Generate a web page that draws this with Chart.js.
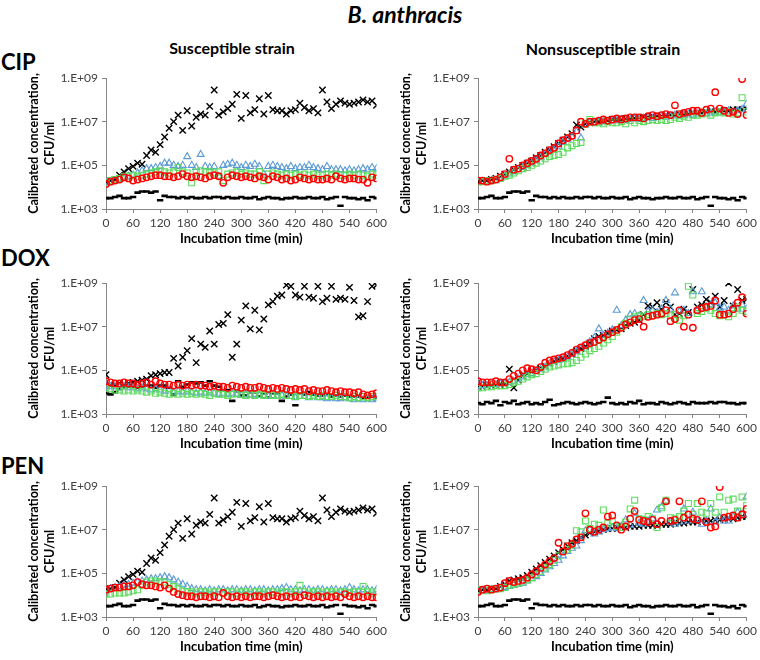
<!DOCTYPE html>
<html>
<head>
<meta charset="utf-8">
<script src="https://cdn.jsdelivr.net/npm/chart.js@4.4.0/dist/chart.umd.min.js"></script>
<style>
  html, body { margin: 0; padding: 0; background: #fff; overflow: hidden; }
  #page { position: relative; width: 760px; height: 660px; font-family: Lato, 'Noto Sans', sans-serif; color: #000; }
  .lbl { position: absolute; font-weight: bold; white-space: nowrap; transform: translate(-50%, -50%); }
  .row { position: absolute; font-weight: bold; font-size: 22px; transform: translate(0, -50%); left: 1px; }
  canvas { position: absolute; }
</style>
</head>
<body>
<div id="page">
  <div class="lbl" style="left:405px;top:14px;font-size:23px;font-style:italic;">B. anthracis</div>
  <div class="lbl" style="left:232px;top:47px;font-size:16px;">Susceptible strain</div>
  <div class="lbl" style="left:603px;top:48px;font-size:16px;">Nonsusceptible strain</div>
  <div class="row" style="top:61px;">CIP</div>
  <div class="row" style="top:257px;">DOX</div>
  <div class="row" style="top:465px;">PEN</div>
  <canvas id="cipSus" width="390" height="191" style="left:0;top:60px"></canvas>
  <canvas id="cipNon" width="370" height="191" style="left:390px;top:60px"></canvas>
  <canvas id="doxSus" width="390" height="191" style="left:0;top:265px"></canvas>
  <canvas id="doxNon" width="370" height="191" style="left:390px;top:265px"></canvas>
  <canvas id="penSus" width="390" height="191" style="left:0;top:468px"></canvas>
  <canvas id="penNon" width="370" height="191" style="left:390px;top:468px"></canvas>
</div>
<script>
// incubation time (min)
const times = [0,10,20,30,40,50,60,70,80,90,
  100,110,120,130,140,150,160,170,180,190,
  200,210,220,230,240,250,260,270,280,290,
  300,310,320,330,340,350,360,370,380,390,
  400,410,420,430,440,450,460,470,480,490,
  500,510,520,530,540,550,560,570,580,590,
  600];
const yTickVals = [1e3, 1e5, 1e7, 1e9];

// all values below are log10(CFU/ml)
// growth control (x) of susceptible strain, same in CIP and PEN panels
const ctrlSusX = [4.25,4.3,4.35,4.55,4.7,4.85,4.95,5.1,5.05,5.45,
  5.7,5.6,5.95,6.3,6.7,7.0,7.3,6.6,7.5,6.8,
  7.2,7.35,7.3,7.7,8.45,7.3,7.45,7.6,7.8,8.25,
  7.15,8.2,7.4,7.55,8.05,7.35,8.2,7.55,7.5,7.5,
  7.35,7.5,7.55,7.85,7.65,7.5,7.6,7.4,8.45,7.9,
  7.6,7.8,7.95,7.85,7.8,7.85,7.9,8.0,7.9,7.95,
  7.75];
// blank (dash) in CIP and PEN panels
const ctrlDash = [3.5,3.5,3.55,3.6,3.5,3.5,3.55,3.75,3.8,3.8,
  3.75,3.8,3.4,3.6,3.55,3.55,3.5,3.55,3.5,3.55,
  3.5,3.5,3.55,3.5,3.55,3.55,3.5,3.55,3.5,3.5,
  3.55,3.5,3.5,3.55,3.45,3.5,3.55,3.5,3.5,3.45,
  3.5,3.5,3.55,3.5,3.5,3.55,3.5,3.5,3.55,3.45,
  3.5,3.55,3.15,3.55,3.5,3.5,3.45,3.5,3.4,3.55,
  3.5];

// CIP, susceptible
const cipSusBlue = [4.2,4.25,4.3,4.35,4.4,4.5,4.55,4.65,4.75,4.85,
  4.85,4.9,4.95,5.1,5.1,5.0,4.95,5.0,5.4,5.0,
  4.9,5.5,4.95,4.9,4.95,4.5,5.0,5.05,5.1,5.0,
  4.9,5.0,4.95,5.05,4.95,4.6,4.95,5.0,4.95,4.9,
  4.85,4.95,4.85,4.9,4.9,5.0,4.9,4.85,4.8,4.95,
  4.8,4.8,4.8,4.75,4.8,4.75,4.8,4.85,4.8,4.9,
  4.85];
const cipSusGreen = [4.2,4.3,4.35,4.4,4.5,4.5,4.55,4.5,4.55,4.6,
  4.65,4.7,4.75,4.7,4.65,4.7,4.9,4.7,4.65,4.2,
  4.7,4.75,4.7,4.7,4.65,4.7,4.3,4.6,4.65,4.7,
  4.6,4.65,4.6,4.6,4.7,4.3,4.6,4.65,4.6,4.55,
  4.6,4.55,4.6,4.55,4.6,4.55,4.6,4.55,4.55,4.6,
  4.55,4.6,4.55,4.55,4.6,4.55,4.6,4.55,4.5,4.6,
  4.55];
const cipSusRed = [4.15,4.25,4.3,4.35,4.45,4.4,4.3,4.35,4.4,4.45,
  4.5,4.55,4.55,4.5,4.5,4.45,4.5,4.6,4.5,4.45,
  4.5,4.45,4.4,4.5,4.55,4.5,4.2,4.45,4.55,4.5,
  4.45,4.5,4.45,4.4,4.5,4.45,4.35,4.5,4.45,4.35,
  4.4,4.3,4.35,4.45,4.4,4.35,4.4,4.35,4.35,4.4,
  4.35,4.5,4.4,4.35,4.4,4.4,4.35,4.35,4.2,4.45,
  4.4];

// CIP, nonsusceptible
const cipNonX = [4.25,4.3,4.3,4.35,4.4,4.5,4.6,4.7,4.8,4.9,
  5.0,5.1,5.2,5.35,5.45,5.6,5.7,5.85,6.0,6.15,
  6.3,6.45,6.85,6.75,6.9,6.95,7.0,7.0,7.05,7.05,
  7.1,7.1,7.1,7.15,7.15,7.15,7.2,7.2,7.2,7.25,
  7.25,7.25,7.3,7.3,7.3,7.35,7.35,7.35,7.4,7.4,
  7.4,7.45,7.45,7.45,7.5,7.5,7.5,7.55,7.55,7.55,
  7.6];
const cipNonBlue = [4.25,4.25,4.25,4.3,4.3,4.4,4.5,4.6,4.7,4.8,
  4.9,5.0,5.1,5.2,5.35,5.5,5.6,5.7,5.85,6.05,
  6.2,6.3,6.55,6.25,6.85,6.95,6.95,7.0,7.0,7.0,
  7.05,7.05,7.1,7.05,7.1,7.15,7.1,7.15,7.2,7.15,
  7.2,7.25,7.2,7.25,7.3,7.25,7.3,7.35,7.3,7.35,
  7.4,7.35,7.4,7.45,7.4,7.45,7.5,7.45,7.5,7.55,
  7.8];
const cipNonGreen = [4.25,4.25,4.3,4.3,4.35,4.4,4.5,4.55,4.65,4.75,
  4.85,4.9,5.0,5.1,5.2,5.3,5.4,5.45,5.5,5.6,
  5.8,5.9,6.0,6.05,6.9,7.1,6.95,6.95,6.9,7.0,
  6.95,6.95,7.0,6.9,7.05,6.95,7.05,7.0,7.05,7.1,
  7.05,7.1,7.05,7.1,7.2,7.15,7.25,7.2,7.3,7.3,
  7.35,7.4,7.3,7.4,7.45,7.4,7.45,7.35,7.4,8.1,
  7.45];
const cipNonRed = [4.3,4.3,4.25,4.3,4.35,4.45,4.6,5.3,4.8,4.85,
  5.0,5.1,5.2,5.3,5.45,5.55,5.7,5.8,6.0,6.15,
  6.25,6.35,6.6,7.0,6.9,7.0,7.0,7.05,7.1,7.05,
  7.1,7.15,7.1,7.15,7.2,7.2,7.2,7.15,7.25,7.3,
  7.25,7.3,7.35,7.3,7.75,7.35,7.4,7.45,7.5,7.5,
  7.4,7.55,7.6,8.35,7.6,7.5,7.4,7.45,7.35,8.95,
  7.3];

// DOX, susceptible
const doxSusX = [4.8,4.3,4.3,4.4,4.35,4.4,4.45,4.5,4.55,4.6,
  4.75,4.8,4.85,4.9,4.9,5.55,5.2,5.6,5.9,6.45,
  5.35,6.2,6.05,6.8,6.2,7.1,7.15,7.55,5.6,6.2,
  7.3,7.95,6.9,7.75,6.85,7.35,8.0,8.15,8.4,8.45,
  8.9,8.85,8.45,8.35,8.85,8.35,8.3,8.85,8.15,8.3,
  8.85,8.25,8.3,8.25,8.8,8.2,7.45,7.5,8.15,8.85,
  8.9];
const doxSusDash = [3.95,3.9,4.0,4.15,4.2,4.25,4.25,4.2,4.25,4.3,
  4.3,4.2,4.3,4.3,4.2,3.9,4.5,4.25,4.35,4.45,
  4.4,4.45,4.3,4.5,4.3,4.25,4.1,4.1,3.6,4.05,
  3.85,3.85,4.0,4.0,3.8,3.95,3.75,3.95,3.95,3.6,
  3.8,3.9,3.4,3.95,3.9,4.0,3.9,3.85,3.85,3.9,
  3.8,3.85,3.8,3.85,3.8,3.8,3.8,3.75,3.75,3.8,
  3.75];
const doxSusBlue = [4.3,4.25,4.25,4.2,4.25,4.2,4.2,4.15,4.2,4.15,
  4.1,4.15,4.1,4.05,4.1,4.0,4.05,4.0,4.05,4.0,
  3.95,4.0,3.95,4.0,3.95,3.9,3.95,3.9,3.95,3.9,
  3.85,3.9,3.85,3.9,3.85,3.85,3.8,3.85,3.8,3.85,
  3.8,3.8,3.75,3.8,3.8,3.75,3.8,3.75,3.75,3.7,
  3.75,3.7,3.7,3.75,3.7,3.65,3.7,3.65,3.7,3.65,
  3.7];
const doxSusGreen = [4.2,4.15,4.1,4.1,4.05,4.1,4.05,4.1,4.05,4.0,
  4.05,3.95,4.0,3.95,3.9,3.95,3.9,3.95,3.9,3.95,
  3.9,3.95,3.9,3.85,3.95,3.9,3.9,3.85,3.9,3.95,
  3.9,3.85,3.9,3.85,3.9,3.85,3.9,3.85,3.85,3.9,
  3.85,3.85,3.8,3.85,3.85,3.8,3.85,3.8,3.85,3.8,
  3.8,3.85,3.8,3.8,3.75,3.8,3.75,3.8,3.75,3.8,
  3.8];
const doxSusRed = [4.5,4.45,4.4,4.4,4.45,4.4,4.4,4.35,4.4,4.45,
  4.35,4.5,4.4,4.35,4.35,4.3,4.35,4.3,4.35,4.3,
  4.35,4.3,4.3,4.25,4.3,4.25,4.25,4.2,4.3,4.25,
  4.2,4.25,4.2,4.2,4.25,4.2,4.15,4.2,4.15,4.2,
  4.15,4.1,4.15,4.1,4.15,4.05,4.1,4.05,4.05,4.1,
  4.05,4.0,4.05,4.0,4.0,3.95,4.0,3.9,3.85,3.9,
  3.95];

// DOX, nonsusceptible
const doxNonX = [4.25,4.25,4.3,4.3,4.3,4.35,4.35,5.05,4.2,4.55,
  4.75,4.85,4.95,5.0,5.1,5.2,5.3,5.4,5.5,5.55,
  5.65,5.75,5.9,6.0,6.1,6.25,6.45,6.55,6.6,6.7,
  6.8,6.85,6.9,7.05,7.15,7.2,7.3,7.55,7.95,7.9,
  8.1,7.8,8.1,7.9,7.55,7.6,7.8,7.65,8.7,7.9,
  8.0,8.25,8.1,8.4,7.9,8.2,9.0,7.95,8.7,8.2,
  8.25];
const doxNonDash = [3.5,3.45,3.55,3.5,3.6,3.4,3.55,3.5,3.6,3.45,
  3.5,3.55,3.45,3.5,3.45,3.55,3.65,3.4,3.45,3.5,
  3.55,3.5,3.45,3.5,3.55,3.5,3.45,3.5,3.55,3.75,
  3.5,3.45,3.5,3.45,3.55,3.5,3.6,3.45,3.5,3.5,
  3.45,3.55,3.5,3.45,3.5,3.55,3.5,3.45,3.55,3.5,
  3.5,3.5,3.55,3.5,3.55,3.55,3.5,3.5,3.45,3.5,
  3.5];
const doxNonBlue = [4.3,4.3,4.3,4.35,4.35,4.4,4.4,4.45,4.5,4.6,
  4.7,4.8,4.85,4.95,5.05,5.15,5.3,5.4,5.45,5.5,
  5.6,5.75,5.85,6.0,6.15,6.3,6.5,6.9,6.6,6.7,
  6.85,7.75,7.05,7.3,7.55,7.6,7.5,8.2,7.7,7.75,
  7.65,7.8,8.2,7.8,8.55,7.7,7.75,7.6,8.6,7.75,
  8.6,7.9,8.0,8.1,7.85,7.9,7.75,7.95,7.8,8.0,
  7.8];
const doxNonGreen = [4.2,4.2,4.25,4.25,4.3,4.3,4.3,4.35,4.45,4.5,
  4.6,4.7,4.8,4.85,4.95,5.05,5.15,5.2,5.25,5.3,
  5.3,5.35,5.45,5.6,5.75,5.9,6.0,6.1,6.25,6.4,
  6.55,6.75,7.0,7.15,7.35,7.45,7.5,7.45,7.55,7.5,
  7.6,7.55,7.6,7.5,7.55,7.3,7.5,8.85,8.45,7.6,
  7.7,7.85,7.75,7.6,7.5,7.55,7.45,7.6,7.9,7.75,
  7.7];
const doxNonRed = [4.5,4.45,4.45,4.45,4.5,4.45,4.45,4.6,4.75,4.85,
  5.0,5.1,5.05,5.0,5.15,5.35,5.45,5.5,5.55,5.6,
  5.7,5.8,5.95,6.05,6.15,6.25,6.3,6.4,6.5,6.65,
  6.75,6.85,6.95,7.1,7.2,7.3,7.35,7.0,7.45,7.5,
  7.55,7.6,7.75,7.25,7.35,7.75,7.0,7.55,6.95,7.75,
  7.85,7.9,7.95,8.2,7.55,7.55,7.6,7.8,8.1,8.35,
  7.6];

// PEN, susceptible
const penSusBlue = [4.25,4.3,4.35,4.4,4.45,4.5,4.55,4.6,4.65,4.7,
  4.75,4.75,4.8,4.85,4.8,4.7,4.6,4.5,4.4,4.3,
  4.25,4.25,4.2,4.25,4.2,4.25,4.25,4.2,4.25,4.25,
  4.2,4.25,4.25,4.2,4.25,4.25,4.2,4.25,4.25,4.3,
  4.35,4.25,4.25,4.2,4.25,4.25,4.2,4.25,4.25,4.2,
  4.25,4.25,4.2,4.25,4.35,4.25,4.2,4.25,4.25,4.2,
  4.25];
const penSusGreen = [4.05,4.05,4.1,4.1,4.1,4.15,4.2,4.25,4.45,4.6,
  4.65,4.65,4.6,4.6,4.5,4.4,4.3,4.2,4.15,4.15,
  4.1,4.15,4.15,4.1,4.15,4.15,4.1,4.15,4.15,4.1,
  4.15,4.15,4.1,4.15,4.15,4.1,4.15,4.15,4.1,4.15,
  4.15,4.1,4.15,4.45,4.15,4.1,4.15,4.15,4.1,4.15,
  4.15,4.1,4.15,4.15,4.1,4.15,4.15,4.4,4.15,4.1,
  4.15];
const penSusRed = [4.25,4.3,4.35,4.35,4.4,4.4,4.45,4.6,4.5,4.45,
  4.45,4.4,4.35,4.45,4.3,4.15,4.05,4.0,3.95,3.95,
  3.9,3.95,3.95,3.9,3.95,3.9,4.1,3.95,3.9,3.95,
  3.9,3.95,3.9,3.95,3.95,3.9,3.95,4.0,3.95,3.9,
  3.95,3.9,3.95,3.9,4.0,3.95,3.9,3.95,3.9,3.95,
  3.9,3.95,3.9,4.05,3.95,3.9,3.95,3.9,3.95,3.9,
  3.9];

// PEN, nonsusceptible
const penNonX = [4.2,4.25,4.25,4.3,4.3,4.4,4.5,4.65,4.7,4.75,
  4.8,4.9,5.05,5.2,5.35,5.5,5.65,5.8,5.95,6.1,
  6.25,6.4,6.5,6.65,6.75,6.85,6.9,6.95,7.0,7.05,
  7.05,7.1,7.1,7.1,7.15,7.15,7.15,7.2,7.2,7.2,
  7.2,7.25,7.25,7.25,7.3,7.3,7.3,7.35,7.35,7.35,
  7.4,7.4,7.4,7.45,7.45,7.5,7.5,7.5,7.55,7.6,
  7.6];
const penNonBlue = [4.2,4.2,4.2,4.25,4.25,4.3,4.35,4.4,4.45,4.5,
  4.55,4.65,4.75,4.85,5.0,5.15,5.3,5.45,5.6,5.8,
  6.0,6.15,6.25,6.5,6.95,7.0,6.8,6.9,7.0,7.05,
  7.1,7.05,7.15,7.45,7.2,7.75,7.3,7.25,7.4,7.5,
  7.9,8.05,8.3,7.35,7.25,7.35,7.95,7.4,7.8,7.45,
  7.25,7.4,7.95,7.35,7.55,7.4,7.4,7.6,7.8,7.7,
  8.5];
const penNonGreen = [4.25,4.25,4.2,4.25,4.3,4.3,4.35,4.45,4.5,4.55,
  4.6,4.7,4.8,4.95,5.1,5.25,5.4,5.6,5.8,6.0,
  6.1,6.3,6.95,6.9,7.4,7.05,7.25,7.2,7.9,7.3,
  7.4,7.15,7.1,7.35,7.95,8.35,7.5,7.45,7.6,7.5,
  7.1,8.0,8.35,7.55,7.5,7.6,7.85,8.2,7.7,8.2,
  7.8,7.75,8.2,7.8,8.5,7.8,8.35,8.4,7.85,8.5,
  8.1];
const penNonRed = [4.15,4.25,4.3,4.25,4.3,4.35,4.55,4.65,4.6,4.65,
  4.7,4.8,4.95,5.1,5.25,5.4,5.55,5.7,6.4,6.0,
  6.25,6.35,6.55,6.65,7.75,7.0,6.9,7.0,7.1,7.6,
  7.65,7.2,7.0,7.15,7.5,7.85,7.45,7.4,7.35,7.45,
  7.25,7.4,8.3,7.4,7.45,8.3,7.55,7.7,7.5,7.45,
  8.3,7.35,7.1,7.15,8.95,7.55,7.6,7.65,7.55,7.7,
  7.95];

const AXIS_GRAY = '#868686';
const TEXT_GRAY = '#404040';
const FONT = 'Lato, "Noto Sans", sans-serif';

function pts(arr) {
  return times.map((t, i) => ({ x: t, y: 10 ** arr[i] }));
}

// datasets listed top-most first (Chart.js draws the first one last)
function makePanel(id, padLeft, padRight, xs, dash, blue, green, red) {
  const datasets = [
    { data: pts(red), pointStyle: 'circle', pointRadius: 3.2, borderColor: '#ff0000', borderWidth: 1.4 },
    { data: pts(green), pointStyle: 'rect', pointRadius: 4.2, borderColor: '#5ddc5d', borderWidth: 1.1 },
    { data: pts(blue), pointStyle: 'triangle', pointRadius: 4, borderColor: '#5b9bd5', borderWidth: 1.1 },
    { data: pts(xs), pointStyle: 'crossRot', pointRadius: 4.5, borderColor: '#000', borderWidth: 1.4 },
    { data: pts(dash), pointStyle: 'line', pointRadius: 3.2, borderColor: '#000', borderWidth: 2.6 },
  ];
  datasets.forEach(d => { d.backgroundColor = 'rgba(0,0,0,0)'; d.pointHoverRadius = d.pointRadius; });

  return new Chart(document.getElementById(id), {
    type: 'scatter',
    data: { datasets },
    options: {
      animation: false,
      responsive: false,
      devicePixelRatio: 1,
      layout: { padding: { left: padLeft, right: padRight, top: 18, bottom: 4 } },
      plugins: { legend: { display: false }, tooltip: { enabled: false } },
      scales: {
        x: {
          type: 'linear', min: 0, max: 600,
          ticks: { stepSize: 60, maxRotation: 0, padding: 3, color: TEXT_GRAY, font: { family: FONT, size: 12 } },
          grid: { display: true, drawOnChartArea: false, tickLength: 4, color: AXIS_GRAY },
          border: { color: AXIS_GRAY },
          title: { display: true, text: 'Incubation time (min)', color: '#000', padding: 0,
                   font: { family: FONT, size: 13, weight: 'bold' } },
          afterFit(s) { s.height = 38; },
        },
        y: {
          type: 'logarithmic', min: 1e3, max: 1e9,
          afterBuildTicks(s) { s.ticks = yTickVals.map(v => ({ value: v })); },
          ticks: {
            padding: 4, color: TEXT_GRAY, font: { family: FONT, size: 12 },
            callback: v => '1.E+' + String(Math.round(Math.log10(v))).padStart(2, '0'),
          },
          grid: { display: true, drawOnChartArea: false, tickLength: 4, color: AXIS_GRAY },
          border: { color: AXIS_GRAY },
          title: { display: true, text: ['Calibrated concentration,', 'CFU/ml'], color: '#000',
                   padding: 0, font: { family: FONT, size: 12.5, weight: 'bold', lineHeight: 1.3 } },
          afterFit(s) { s.width = 80; },
        },
      },
    },
  });
}

makePanel('cipSus', 26, 13, ctrlSusX, ctrlDash, cipSusBlue, cipSusGreen, cipSusRed);
makePanel('cipNon', 8, 10, cipNonX, ctrlDash, cipNonBlue, cipNonGreen, cipNonRed);
makePanel('doxSus', 26, 13, doxSusX, doxSusDash, doxSusBlue, doxSusGreen, doxSusRed);
makePanel('doxNon', 8, 10, doxNonX, doxNonDash, doxNonBlue, doxNonGreen, doxNonRed);
makePanel('penSus', 26, 13, ctrlSusX, ctrlDash, penSusBlue, penSusGreen, penSusRed);
makePanel('penNon', 8, 10, penNonX, ctrlDash, penNonBlue, penNonGreen, penNonRed);
</script>
</body>
</html>
